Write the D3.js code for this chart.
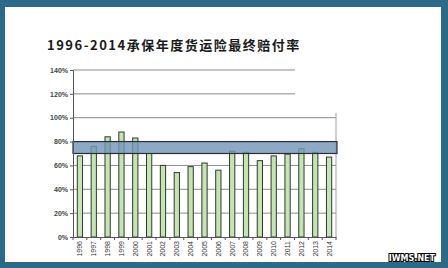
<!DOCTYPE html>
<html>
<head>
<meta charset="utf-8">
<script src="https://cdn.jsdelivr.net/npm/d3@7"></script>
<style>
	html, body { margin: 0; padding: 0; background: #2b6b88; }
	svg { display: block; }
</style>
</head>
<body>
<script>
// Chart data
var years = ["1996", "1997", "1998", "1999", "2000", "2001", "2002", "2003", "2004", "2005",
		"2006", "2007", "2008", "2009", "2010", "2011", "2012", "2013", "2014"];
var lossRatio = [68, 76, 84, 88, 83, 70, 60, 54, 59, 62, 56, 72, 71, 64, 68, 69.5, 74, 71, 67];
var yTicks = [0, 20, 40, 60, 80, 100, 120, 140];
var band = [70, 80];
var title = "1996-2014承保年度货运险最终赔付率";

var width = 448, height = 268,
		margin = {top: 70, right: 112, bottom: 31, left: 73};

var svg = d3.select("body").append("svg")
		.attr("width", width)
		.attr("height", height);

// Teal frame and white sheet
svg.append("rect")
		.attr("width", width).attr("height", height)
		.attr("fill", "#2b6b88");
svg.append("rect")
		.attr("x", 5).attr("y", 7)
		.attr("width", 436).attr("height", 255)
		.attr("fill", "#ffffff");

svg.append("text")
		.attr("x", 47).attr("y", 50)
		.style("font-family", "'Noto Sans CJK SC', sans-serif")
		.style("font-size", "13px")
		.style("font-weight", "bold")
		.style("letter-spacing", "1.5px")
		.attr("fill", "#1a1a1a")
		.text(title);

var x0 = margin.left, x1 = width - margin.right;
var y0 = height - margin.bottom, y1 = margin.top;

var x = d3.scaleBand()
		.domain(years)
		.range([x0, x1])
		.paddingInner(0.62)
		.paddingOuter(0.31);

var y = d3.scaleLinear()
		.domain([0, 140])
		.range([y0, y1]);

// Gridlines (the top two stop short, as in the pasted original)
svg.append("g").selectAll("line")
		.data(yTicks.filter(function(d) { return d > 0; }))
		.enter().append("line")
			.attr("x1", x0)
			.attr("x2", function(d) { return d > 100 ? 295 : x1; })
			.attr("y1", function(d) { return y(d); })
			.attr("y2", function(d) { return y(d); })
			.attr("stroke", "#8c8c8c")
			.attr("stroke-width", 1);

// Right border of plot
svg.append("line")
		.attr("x1", x1).attr("x2", x1)
		.attr("y1", y(104)).attr("y2", y0)
		.attr("stroke", "#a0a0a0");

// Bars
svg.append("g").selectAll("rect")
		.data(lossRatio)
		.enter().append("rect")
			.attr("x", function(d, i) { return x(years[i]); })
			.attr("y", function(d) { return y(d); })
			.attr("width", x.bandwidth())
			.attr("height", function(d) { return y0 - y(d); })
			.attr("fill", "#c4e4b2")
			.attr("stroke", "#2e3b30")
			.attr("stroke-width", 1);

// Target band
svg.append("rect")
		.attr("x", x0)
		.attr("y", y(band[1]))
		.attr("width", x1 - x0 + 1)
		.attr("height", y(band[0]) - y(band[1]))
		.attr("fill", "#7496b6")
		.attr("fill-opacity", 0.82)
		.attr("stroke", "#283038")
		.attr("stroke-width", 1.2);

// Y axis
var yAxis = d3.axisLeft(y)
		.tickValues(yTicks)
		.tickSize(3)
		.tickFormat(function(d) { return d + "%"; });

var gy = svg.append("g")
		.attr("transform", "translate(" + x0 + ",0)")
		.call(yAxis);
gy.select(".domain").attr("stroke", "#555");
gy.selectAll(".tick line").attr("stroke", "#555");
gy.selectAll("text")
		.attr("x", -5)
		.style("font-family", "'Liberation Sans', Arial, sans-serif")
		.style("font-size", "7px")
		.style("font-weight", "bold")
		.attr("fill", "#444");

// X axis
var gx = svg.append("g")
		.attr("transform", "translate(0," + y0 + ")")
		.call(d3.axisBottom(x).tickSize(0));
gx.select(".domain").attr("stroke", "#555");
gx.selectAll("text")
		.attr("transform", "rotate(-90)")
		.attr("x", -4)
		.attr("y", 0)
		.attr("dy", "0.35em")
		.style("text-anchor", "end")
		.style("font-family", "'Liberation Sans', Arial, sans-serif")
		.style("font-size", "7px")
		.attr("fill", "#333");

// Tick marks between categories
svg.append("g").selectAll("line")
		.data(d3.range(years.length + 1))
		.enter().append("line")
			.attr("x1", function(i) { return x0 + i * x.step(); })
			.attr("x2", function(i) { return x0 + i * x.step(); })
			.attr("y1", y0)
			.attr("y2", y0 + 3)
			.attr("stroke", "#555");

// Watermark
svg.append("text")
		.attr("x", 435).attr("y", 261)
		.attr("text-anchor", "end")
		.style("font-family", "'DejaVu Sans', sans-serif")
		.style("font-size", "8px")
		.style("font-weight", "bold")
		.attr("fill", "#ffffff")
		.attr("stroke", "#000")
		.attr("stroke-width", 2)
		.attr("paint-order", "stroke")
		.text("IWMS.NET");
</script>
</body>
</html>
